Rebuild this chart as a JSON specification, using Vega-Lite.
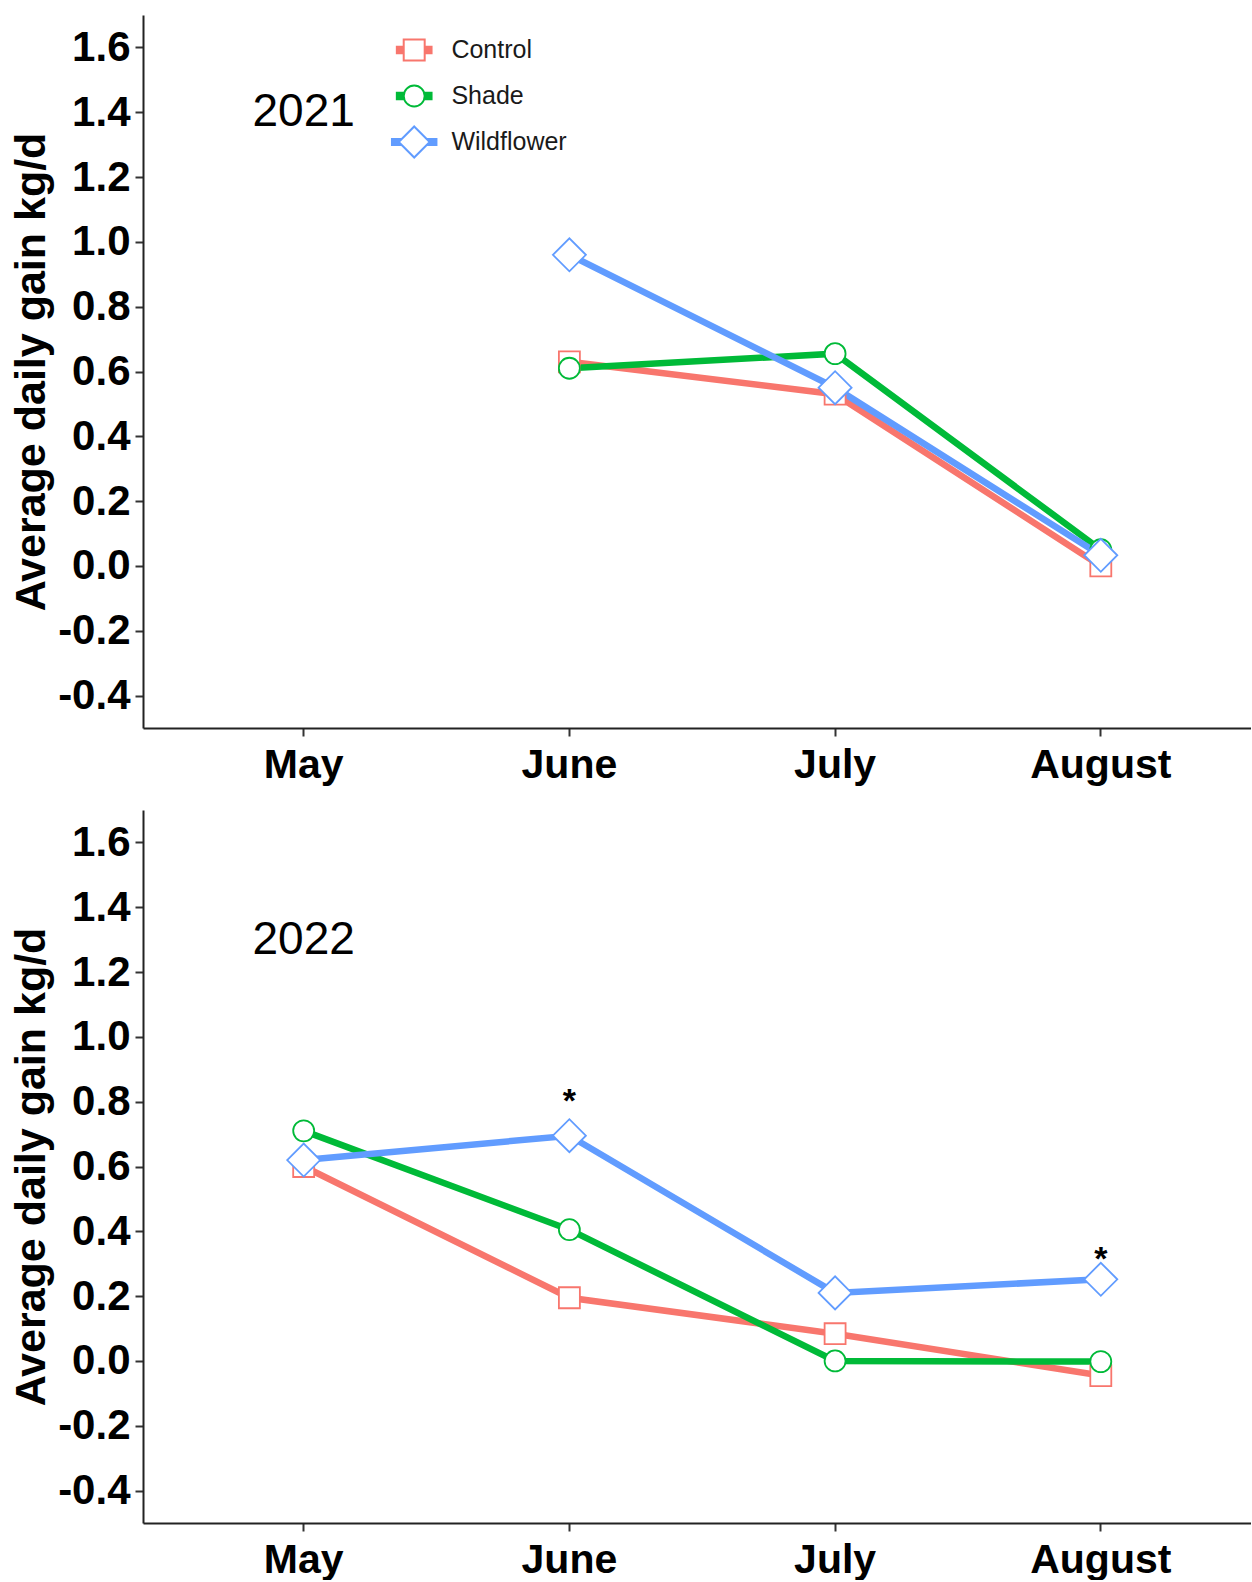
{
  "$schema": "https://vega.github.io/schema/vega-lite/v6.json",
  "background": "white",
  "padding": {"left": 10, "top": 15, "right": 0, "bottom": 0},
  "datasets": {
    "adg": [
      {"year": 2021, "month": "June", "treatment": "Control", "value": 0.63},
      {"year": 2021, "month": "July", "treatment": "Control", "value": 0.53},
      {"year": 2021, "month": "August", "treatment": "Control", "value": 0.0},
      {"year": 2021, "month": "June", "treatment": "Shade", "value": 0.61},
      {"year": 2021, "month": "July", "treatment": "Shade", "value": 0.655},
      {"year": 2021, "month": "August", "treatment": "Shade", "value": 0.05},
      {"year": 2021, "month": "June", "treatment": "Wildflower", "value": 0.96},
      {"year": 2021, "month": "July", "treatment": "Wildflower", "value": 0.55},
      {"year": 2021, "month": "August", "treatment": "Wildflower", "value": 0.033},
      {"year": 2022, "month": "May", "treatment": "Control", "value": 0.6},
      {"year": 2022, "month": "June", "treatment": "Control", "value": 0.195},
      {"year": 2022, "month": "July", "treatment": "Control", "value": 0.084},
      {"year": 2022, "month": "August", "treatment": "Control", "value": -0.045},
      {"year": 2022, "month": "May", "treatment": "Shade", "value": 0.71},
      {"year": 2022, "month": "June", "treatment": "Shade", "value": 0.405},
      {"year": 2022, "month": "July", "treatment": "Shade", "value": 0.0},
      {"year": 2022, "month": "August", "treatment": "Shade", "value": -0.002},
      {"year": 2022, "month": "May", "treatment": "Wildflower", "value": 0.62},
      {"year": 2022, "month": "June", "treatment": "Wildflower", "value": 0.695},
      {"year": 2022, "month": "July", "treatment": "Wildflower", "value": 0.21},
      {"year": 2022, "month": "August", "treatment": "Wildflower", "value": 0.252}
    ],
    "years": [
      {"year": 2021, "month": "May", "value": 1.4, "label": "2021"},
      {"year": 2022, "month": "May", "value": 1.3, "label": "2022"}
    ],
    "stars": [
      {"year": 2022, "month": "June", "value": 0.8, "label": "*"},
      {"year": 2022, "month": "August", "value": 0.31, "label": "*"}
    ]
  },
  "config": {
    "font": "Liberation Sans",
    "view": {"stroke": null},
    "axis": {
      "grid": false,
      "domainColor": "#222222",
      "domainWidth": 2,
      "tickColor": "#333333",
      "tickWidth": 2,
      "tickSize": 8,
      "labelFont": "Liberation Sans",
      "labelFontWeight": "bold",
      "labelColor": "#000000",
      "titleFont": "Liberation Sans",
      "titleColor": "#000000",
      "titleFontWeight": "bold"
    },
    "axisX": {"labelFontSize": 41, "labelPadding": 9, "labelAngle": 0, "bandPosition": 0.5},
    "axisY": {"labelFontSize": 42, "labelPadding": 5, "titleFontSize": 43, "titlePadding": 4}
  },
  "spacing": 82,
  "bounds": "flush",
  "vconcat": [
    {
      "width": 1108,
      "height": 713,
      "layer": [
        {
          "data": {"name": "adg"},
          "transform": [{"filter": "datum.year == 2021"}],
          "mark": {"type": "line", "strokeWidth": 6.5},
          "encoding": {
            "x": {"field": "month", "type": "ordinal", "title": null, "scale": {"type": "band", "domain": ["May", "June", "July", "August"], "paddingInner": 0, "paddingOuter": 0.085, "align": 0.616}},
            "y": {"field": "value", "type": "quantitative", "title": "Average daily gain kg/d", "scale": {"domain": [-0.5, 1.7], "nice": false, "zero": false}, "axis": {"values": [-0.4, -0.2, 0, 0.2, 0.4, 0.6, 0.8, 1.0, 1.2, 1.4, 1.6], "labelExpr": "(datum.value < 0 ? '-' : '') + format(abs(datum.value), '.1f')"}},
            "color": {"field": "treatment", "type": "nominal", "scale": {"domain": ["Control", "Shade", "Wildflower"], "range": ["#F8766D", "#00BA38", "#619CFF"]},
              "legend": {
                "orient": "none", "legendX": 258.7, "legendY": 22.5, "title": null, "padding": 0,
                "labelFont": "Liberation Sans", "labelFontSize": 25, "labelColor": "#1a1a1a",
                "symbolStrokeWidth": 2, "symbolSize": 900, "symbolFillColor": "white", "rowPadding": 7, "labelOffset": 24.7, "gridAlign": "all",
                "encode": {
                  "symbols": {
                    "update": {
                      "shape": {"signal": "datum.value === 'Control' ? 'M-1,-1H1V1H-1Z M-1.75,-0.3H-1 M-1.75,-0.15H-1 M-1.75,0H-1 M-1.75,0.15H-1 M-1.75,0.3H-1 M1,-0.3H1.75 M1,-0.15H1.75 M1,0H1.75 M1,0.15H1.75 M1,0.3H1.75' : datum.value === 'Shade' ? 'M1,0A1,1,0,1,1,-1,0A1,1,0,1,1,1,0Z M-1.75,-0.3H-0.95 M-1.75,-0.15H-0.98 M-1.75,0H-1 M-1.75,0.15H-0.98 M-1.75,0.3H-0.95 M0.95,-0.3H1.75 M0.98,-0.15H1.75 M1,0H1.75 M0.98,0.15H1.75 M0.95,0.3H1.75' : 'M0,-1L1,0L0,1L-1,0Z M-1.5,-0.2H-0.8 M-1.5,-0.1H-0.9 M-1.5,0H-1 M-1.5,0.1H-0.9 M-1.5,0.2H-0.8 M0.8,-0.2H1.5 M0.9,-0.1H1.5 M1,0H1.5 M0.9,0.1H1.5 M0.8,0.2H1.5'"},
                      "size": {"signal": "datum.value === 'Wildflower' ? 960 : 440"},
                      "fill": {"value": "white"},
                      "fillOpacity": {"value": 1},
                      "strokeWidth": {"value": 2}
                    }
                  }
                }
              }
            }
          }
        },
        {
          "data": {"name": "adg"},
          "transform": [{"filter": "datum.year == 2021"}],
          "mark": {"type": "point", "filled": false, "fill": "white", "fillOpacity": 1, "opacity": 1, "strokeWidth": 1.8},
          "encoding": {
            "x": {"field": "month", "type": "ordinal", "scale": {"type": "band", "domain": ["May", "June", "July", "August"], "paddingInner": 0, "paddingOuter": 0.085, "align": 0.616}},
            "y": {"field": "value", "type": "quantitative", "scale": {"domain": [-0.5, 1.7], "nice": false, "zero": false}},
            "color": {"field": "treatment", "type": "nominal", "scale": {"domain": ["Control", "Shade", "Wildflower"], "range": ["#F8766D", "#00BA38", "#619CFF"]}},
            "shape": {"condition": [{"test": "datum.treatment == 'Control'", "value": "square"}, {"test": "datum.treatment == 'Shade'", "value": "circle"}], "value": "diamond"},
            "size": {"condition": {"test": "datum.treatment == 'Wildflower'", "value": 1090}, "value": 440}
          }
        },
        {
          "data": {"name": "years"},
          "transform": [{"filter": "datum.year == 2021"}],
          "mark": {"type": "text", "fontSize": 46, "font": "Liberation Sans", "baseline": "middle", "align": "center", "color": "#000000"},
          "encoding": {
            "x": {"field": "month", "type": "ordinal", "scale": {"type": "band", "domain": ["May", "June", "July", "August"], "paddingInner": 0, "paddingOuter": 0.085, "align": 0.616}},
            "y": {"field": "value", "type": "quantitative", "scale": {"domain": [-0.5, 1.7], "nice": false, "zero": false}},
            "text": {"field": "label"}
          }
        }
      ]
    },
    {
      "width": 1108,
      "height": 713,
      "layer": [
        {
          "data": {"name": "adg"},
          "transform": [{"filter": "datum.year == 2022"}],
          "mark": {"type": "line", "strokeWidth": 6.5},
          "encoding": {
            "x": {"field": "month", "type": "ordinal", "title": null, "scale": {"type": "band", "domain": ["May", "June", "July", "August"], "paddingInner": 0, "paddingOuter": 0.085, "align": 0.616}},
            "y": {"field": "value", "type": "quantitative", "title": "Average daily gain kg/d", "scale": {"domain": [-0.5, 1.7], "nice": false, "zero": false}, "axis": {"values": [-0.4, -0.2, 0, 0.2, 0.4, 0.6, 0.8, 1.0, 1.2, 1.4, 1.6], "labelExpr": "(datum.value < 0 ? '-' : '') + format(abs(datum.value), '.1f')"}},
            "color": {"field": "treatment", "type": "nominal", "scale": {"domain": ["Control", "Shade", "Wildflower"], "range": ["#F8766D", "#00BA38", "#619CFF"]}, "legend": null}
          }
        },
        {
          "data": {"name": "adg"},
          "transform": [{"filter": "datum.year == 2022"}],
          "mark": {"type": "point", "filled": false, "fill": "white", "fillOpacity": 1, "opacity": 1, "strokeWidth": 1.8},
          "encoding": {
            "x": {"field": "month", "type": "ordinal", "scale": {"type": "band", "domain": ["May", "June", "July", "August"], "paddingInner": 0, "paddingOuter": 0.085, "align": 0.616}},
            "y": {"field": "value", "type": "quantitative", "scale": {"domain": [-0.5, 1.7], "nice": false, "zero": false}},
            "color": {"field": "treatment", "type": "nominal", "scale": {"domain": ["Control", "Shade", "Wildflower"], "range": ["#F8766D", "#00BA38", "#619CFF"]}, "legend": null},
            "shape": {"condition": [{"test": "datum.treatment == 'Control'", "value": "square"}, {"test": "datum.treatment == 'Shade'", "value": "circle"}], "value": "diamond"},
            "size": {"condition": {"test": "datum.treatment == 'Wildflower'", "value": 1090}, "value": 440}
          }
        },
        {
          "data": {"name": "years"},
          "transform": [{"filter": "datum.year == 2022"}],
          "mark": {"type": "text", "fontSize": 46, "font": "Liberation Sans", "baseline": "middle", "align": "center", "color": "#000000"},
          "encoding": {
            "x": {"field": "month", "type": "ordinal", "scale": {"type": "band", "domain": ["May", "June", "July", "August"], "paddingInner": 0, "paddingOuter": 0.085, "align": 0.616}},
            "y": {"field": "value", "type": "quantitative", "scale": {"domain": [-0.5, 1.7], "nice": false, "zero": false}},
            "text": {"field": "label"}
          }
        },
        {
          "data": {"name": "stars"},
          "mark": {"type": "text", "fontSize": 34, "fontWeight": "bold", "font": "Liberation Sans", "baseline": "middle", "align": "center", "color": "#000000"},
          "encoding": {
            "x": {"field": "month", "type": "ordinal", "scale": {"type": "band", "domain": ["May", "June", "July", "August"], "paddingInner": 0, "paddingOuter": 0.085, "align": 0.616}},
            "y": {"field": "value", "type": "quantitative", "scale": {"domain": [-0.5, 1.7], "nice": false, "zero": false}},
            "text": {"field": "label"}
          }
        }
      ]
    }
  ]
}
